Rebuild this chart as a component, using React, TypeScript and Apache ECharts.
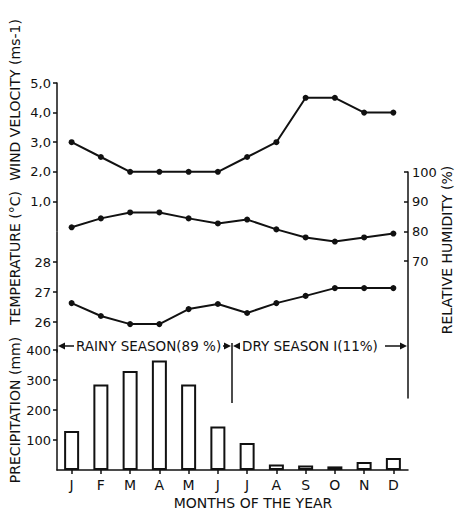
import React, { useEffect, useRef } from 'react';
import * as echarts from 'echarts';

const months = ['J', 'F', 'M', 'A', 'M', 'J', 'J', 'A', 'S', 'O', 'N', 'D'];
const windVelocity = [3.0, 2.5, 2.0, 2.0, 2.0, 2.0, 2.5, 3.0, 4.5, 4.5, 4.0, 4.0];
const relativeHumidity = [81.4, 84.4, 86.4, 86.4, 84.4, 82.7, 84.0, 80.7, 78.0, 76.6, 78.0, 79.3];
const temperature = [26.63, 26.2, 25.93, 25.93, 26.43, 26.6, 26.3, 26.63, 26.87, 27.13, 27.13, 27.13];
const precipitation = [130, 285, 330, 365, 285, 145, 90, 18, 15, 12, 27, 40];

const windTicks = [1, 2, 3, 4, 5];
const temperatureTicks = [26, 27, 28];
const precipitationTicks = [100, 200, 300, 400];
const humidityTicks = [70, 80, 90, 100];

export default function App() {
  const ref = useRef<HTMLDivElement>(null);
  useEffect(() => {
    const chart = echarts.init(ref.current!, null, { renderer: 'svg' });
    const ink = '#111';
    const font = 'DejaVu Sans';
    const axisLineStyle = { color: ink, width: 1.5 };
    const L = 57;
    const W = 351;
    const AY = 346;

    const hiddenX = (i: number) => ({
      type: 'category', gridIndex: i, data: months, show: false, boundaryGap: true,
    });
    const yAxisOf = (i: number, min: number, max: number, ticks: number[], fmt: (v: number) => string, pos = 'left', inside = false) => ({
      type: 'value', gridIndex: i, min, max, position: pos,
      axisLine: { show: true, lineStyle: axisLineStyle },
      axisTick: { show: true, inside, length: 4, lineStyle: axisLineStyle, customValues: ticks },
      axisLabel: { show: true, customValues: ticks, formatter: fmt, color: ink, fontSize: 13, fontFamily: font, margin: pos === 'left' ? 6 : 4 },
      splitLine: { show: false },
    });
    const lineSeries = (i: number, data: number[]) => ({
      type: 'line', xAxisIndex: i, yAxisIndex: i, data,
      symbol: 'circle', symbolSize: 6,
      lineStyle: { color: ink, width: 2 },
      itemStyle: { color: ink },
    });
    const vtext = (text: string, x: number, y: number) => ({
      type: 'text', x, y, rotation: Math.PI / 2,
      style: { text, fill: ink, font: `14px "${font}"`, align: 'center', verticalAlign: 'middle' },
    });
    const htext = (text: string, x: number, y: number, align = 'left', size = 13) => ({
      type: 'text', x, y,
      style: { text, fill: ink, font: `${size}px "${font}"`, align, verticalAlign: 'middle' },
    });
    // arrow: shaft from x1 to tip, head at tip pointing in direction of tip
    const arrow = (x1: number, tip: number) => {
      const dir = tip > x1 ? 1 : -1;
      return [
        { type: 'line', shape: { x1, y1: AY, x2: tip - dir * 3, y2: AY }, style: { stroke: ink, lineWidth: 1.5 } },
        { type: 'polygon', shape: { points: [[tip, AY], [tip - dir * 7, AY - 3.5], [tip - dir * 7, AY + 3.5]] }, style: { fill: ink } },
      ];
    };

    chart.setOption({
      animation: false,
      backgroundColor: '#fff',
      grid: [
        { left: L, width: W, top: 83, height: 148 },
        { left: L, width: W, top: 232, height: 120 },
        { left: L, width: W, top: 350, height: 120 },
        { left: L, width: W, top: 172, height: 226 },
      ],
      xAxis: [
        hiddenX(0),
        hiddenX(1),
        {
          type: 'category', gridIndex: 2, data: months, boundaryGap: true,
          axisLine: { show: true, lineStyle: axisLineStyle },
          axisTick: { show: true, alignWithLabel: true, length: 4, lineStyle: axisLineStyle },
          axisLabel: { color: ink, fontSize: 14, fontFamily: font, margin: 8 },
        },
        hiddenX(3),
      ],
      yAxis: [
        yAxisOf(0, 0, 5, windTicks, (v: number) => v.toFixed(1).replace('.', ',')),
        yAxisOf(1, 25, 29, temperatureTicks, (v: number) => String(v)),
        yAxisOf(2, 0, 400, precipitationTicks, (v: number) => String(v)),
        yAxisOf(3, 24, 100, humidityTicks, (v: number) => String(v), 'right', true),
      ],
      series: [
        lineSeries(0, windVelocity),
        lineSeries(1, temperature),
        {
          type: 'bar', xAxisIndex: 2, yAxisIndex: 2, data: precipitation, barWidth: 15,
          itemStyle: { color: '#fff', borderColor: ink, borderWidth: 2 },
        },
        lineSeries(3, relativeHumidity),
      ],
      graphic: [
        vtext('WIND VELOCITY (ms-1)', 15, 100),
        vtext('TEMPERATURE (°C)', 15, 258),
        vtext('PRECIPITATION (mm)', 15, 410),
        vtext('RELATIVE HUMIDITY (%)', 447, 250),
        htext('MONTHS OF THE YEAR', 253, 503, 'center', 14),
        ...arrow(74, 58),
        htext('RAINY SEASON(89 %)', 76, AY, 'left', 13.5),
        ...arrow(223, 231),
        ...arrow(240, 233),
        htext('DRY SEASON I(11%)', 242, AY, 'left', 13.5),
        ...arrow(385, 407),
        { type: 'line', shape: { x1: 232, y1: 343, x2: 232, y2: 403 }, style: { stroke: ink, lineWidth: 1.5 } },
      ],
    });
    return () => chart.dispose();
  }, []);
  return <div ref={ref} style={{ position: 'fixed', left: 0, top: 0, width: 458, height: 512 }} />;
}
